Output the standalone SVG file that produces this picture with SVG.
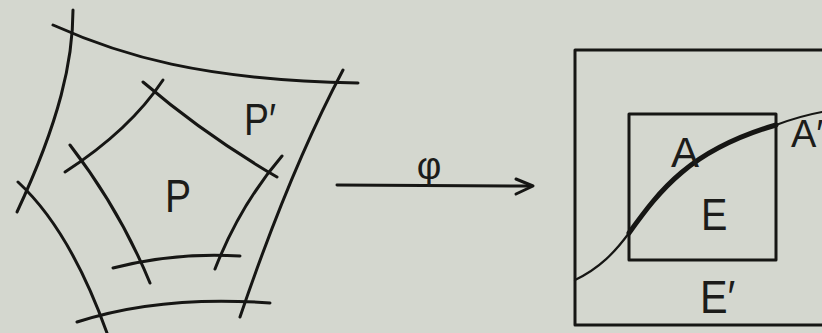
<svg xmlns="http://www.w3.org/2000/svg" width="822" height="333" viewBox="0 0 822 333">
  <style>
    .ln { fill: none; stroke: #161614; stroke-width: 3; stroke-linecap: round; stroke-linejoin: round; }
    .thin { fill: none; stroke: #161614; stroke-width: 2.2; stroke-linecap: round; }
    .thick { fill: none; stroke: #161614; stroke-width: 5; stroke-linecap: round; }
    .lbl { font-family: "Liberation Sans", "DejaVu Sans", sans-serif; fill: #1c1c1a; }
  </style>
  <rect x="0" y="0" width="822" height="333" fill="#d4d7cf"/>

  <g id="outer-cell">
    <path class="ln" d="M53,25 C120,55 200,80 358,83"/>
    <path class="ln" d="M73,10 C73,60 60,120 17,212"/>
    <path class="ln" d="M343,70 Q290,170 240,317"/>
    <path class="ln" d="M77,322 Q160,295 270,303"/>
    <path class="ln" d="M18,182 Q70,230 107,333"/>
  </g>

  <g id="inner-cell">
    <path class="ln" d="M65,172 Q130,130 163,80"/>
    <path class="ln" d="M143,82 Q205,135 277,177"/>
    <path class="ln" d="M282,156 Q240,205 215,269"/>
    <path class="ln" d="M113,268 Q175,252 240,256"/>
    <path class="ln" d="M70,145 Q120,210 150,283"/>
  </g>

  <g id="label-P"><text class="lbl" x="165" y="212" font-size="46" transform="translate(165,0) scale(0.85,1) translate(-165,0)">P</text></g>
  <g id="label-P-prime"><text class="lbl" x="244" y="135" font-size="44" transform="translate(244,0) scale(0.85,1) translate(-244,0)">P′</text></g>

  <g id="connectors">
    <line class="ln" x1="337" y1="185" x2="531" y2="186"/>
    <polyline class="ln" points="516,179 533,186 516,194"/>
    <text class="lbl" x="429" y="179" font-size="38" text-anchor="middle" font-family="Liberation Serif, serif">φ</text>
  </g>

  <g id="box-E-prime">
    <path class="ln" d="M822,50 L575,50 L575,325 L822,325"/>
  </g>
  <g id="box-E">
    <rect class="ln" x="629" y="114" width="147" height="146"/>
  </g>
  <g id="curve-A">
    <path class="thin" d="M575,280 C600,268 615,252 629,233"/>
    <path class="thick" d="M629,233 C660,190 690,150 776,125"/>
    <path class="thin" d="M776,125 Q800,116 822,112"/>
  </g>

  <g id="label-A"><text class="lbl" x="671" y="167" font-size="42">A</text></g>
  <g id="label-E"><text class="lbl" x="701" y="230" font-size="44" transform="translate(701,0) scale(0.9,1) translate(-701,0)">E</text></g>
  <g id="label-E-prime"><text class="lbl" x="700" y="313" font-size="46" transform="translate(700,0) scale(0.9,1) translate(-700,0)">E′</text></g>
  <g id="label-A-prime"><text class="lbl" x="791" y="147" font-size="38">A′</text></g>
</svg>
